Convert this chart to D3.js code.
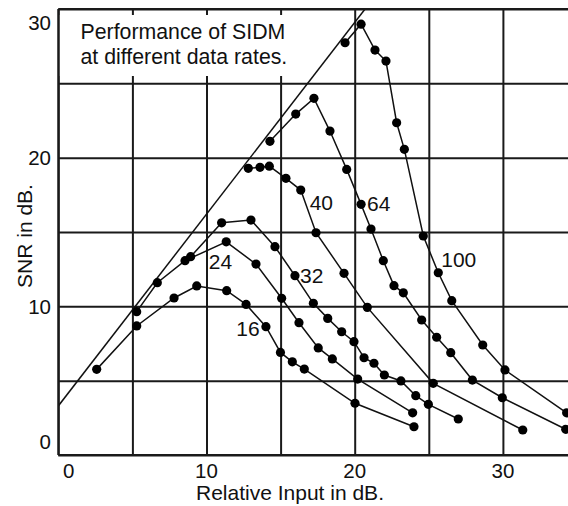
<!DOCTYPE html>
<html>
<head>
<meta charset="utf-8">
<script src="https://cdn.jsdelivr.net/npm/d3@7/dist/d3.min.js"></script>
<style>
html,body{margin:0;padding:0;background:#fff;}
svg{display:block;}
text{font-family:"Liberation Sans",Arial,Helvetica,sans-serif;fill:#111;}
</style>
</head>
<body>
<svg id="chart" width="568" height="506"></svg>
<script>
// ---- data ----
const xTicks = [0, 10, 20, 30];
const yTicks = [0, 10, 20, 30];
const gridX = [0, 5, 10, 15, 20, 25, 30];
const gridY = [0, 5, 10, 15, 20, 25, 30];

const rate16X = [2.59, 5.29, 7.81, 9.34, 11.36, 12.67, 14.01, 14.99, 15.79, 16.6, 20.02, 24.0];
const rate16Y = [5.76, 8.68, 10.56, 11.37, 11.05, 10.13, 8.63, 6.9, 6.27, 5.78, 3.48, 1.9];

const rate24X = [5.29, 6.68, 8.55, 11.33, 13.34, 15.07, 16.24, 17.54, 18.49, 20.2, 23.91];
const rate24Y = [9.64, 11.59, 13.07, 14.34, 12.84, 10.54, 8.9, 7.2, 6.46, 5.11, 2.84];

const rate32X = [8.93, 11.02, 13.0, 14.62, 15.97, 17.21, 18.18, 19.12, 19.95, 20.63, 21.3, 22.0, 23.12, 24.12, 24.97, 26.99];
const rate32Y = [13.34, 15.62, 15.8, 14.01, 12.06, 10.2, 9.19, 8.29, 7.62, 6.54, 6.17, 5.38, 4.98, 3.99, 3.41, 2.42];

const rate40X = [12.82, 13.61, 14.24, 15.36, 16.36, 17.39, 19.28, 20.85, 25.3, 31.34];
const rate40Y = [19.28, 19.35, 19.43, 18.61, 17.82, 14.95, 12.22, 9.93, 4.82, 1.68];

const rate64X = [14.28, 16.02, 17.25, 18.33, 19.46, 20.43, 21.1, 21.93, 22.65, 23.28, 24.52, 25.53, 26.48, 27.94, 29.96, 34.24];
const rate64Y = [21.1, 22.93, 23.99, 21.79, 19.21, 16.86, 15.2, 13.07, 11.39, 10.91, 9.08, 7.92, 6.88, 5.04, 3.85, 1.73];

const rate100X = [19.35, 20.43, 21.37, 22.11, 22.83, 23.35, 24.63, 25.64, 26.55, 28.64, 30.14, 34.3];
const rate100Y = [27.73, 28.98, 27.24, 26.5, 22.35, 20.56, 14.73, 12.26, 10.38, 7.4, 5.72, 2.84];

// ideal (limit) line
const limitX = [0, 20.7];
const limitY = [3.3, 30];

// series names and label anchor (data units)
const seriesNames = ["16", "24", "32", "40", "64", "100"];
const labelX = [12.8, 10.94, 17.1, 17.75, 21.62, 27.02];
const labelY = [8.51, 13.0, 12.1, 16.98, 16.89, 13.15];

const titleLines = ["Performance of SIDM", "at different data rates."];
const xTitle = "Relative Input in dB.";
const yTitle = "SNR in dB.";

// ---- drawing ----
(function () {
const svg = d3.select("#chart");
const W = 568;
const mLeft = 58.3, mTop = 9, mBottom = 455;
const pxPerUnit = 14.82;

const x = d3.scaleLinear().domain([0, 35]).range([mLeft, mLeft + 35 * pxPerUnit]);
const y = d3.scaleLinear().domain([0, 30]).range([mBottom, mTop]);

const defs = svg.append("defs");
defs.append("clipPath").attr("id", "plotclip")
  .append("rect").attr("x", mLeft).attr("y", mTop).attr("width", W - mLeft).attr("height", mBottom - mTop);

// grid via axes
const gx = svg.append("g").attr("transform", `translate(0,${mBottom})`)
  .call(d3.axisBottom(x).tickValues(gridX).tickSize(-(mBottom - mTop)).tickFormat(""));
gx.select(".domain").remove();
gx.selectAll(".tick line").attr("stroke", "#1a1a1a").attr("stroke-width", 2);

const gy = svg.append("g").attr("transform", `translate(${mLeft},0)`)
  .call(d3.axisLeft(y).tickValues(gridY).tickSize(-(W - mLeft)).tickFormat(""));
gy.select(".domain").remove();
gy.selectAll(".tick line").attr("stroke", "#1a1a1a").attr("stroke-width", 2);

// title box (white background covering grid)
svg.append("rect").attr("x", mLeft + 1.5).attr("y", 15).attr("width", 240).attr("height", 61).attr("fill", "#fff");
svg.append("g").selectAll("text").data(titleLines).join("text")
  .attr("x", 80.5).attr("y", (d, i) => 38.5 + i * 25)
  .attr("font-size", 21.3).text(d => d);

// tick labels
svg.append("g").selectAll("text").data(yTicks).join("text")
  .attr("x", 51).attr("y", d => Math.max(22, Math.min(441, y(d))))
  .attr("text-anchor", "end").attr("dominant-baseline", "central")
  .attr("font-size", 20.5).text(d => d);
svg.append("g").selectAll("text").data(xTicks).join("text")
  .attr("x", d => Math.max(68.7, x(d))).attr("y", 470)
  .attr("text-anchor", "middle").attr("dominant-baseline", "central")
  .attr("font-size", 20.5).text(d => d);

// axis titles
svg.append("text").attr("x", 290).attr("y", 500).attr("text-anchor", "middle")
  .attr("font-size", 21).text(xTitle);
svg.append("text").attr("transform", "translate(32,236) rotate(-90)").attr("text-anchor", "middle")
  .attr("font-size", 21).text(yTitle);

const plot = svg.append("g").attr("clip-path", "url(#plotclip)");

// limit line
const line = d3.line().x(d => x(d[0])).y(d => y(d[1]));
plot.append("path").datum(limitX.map((v, i) => [v, limitY[i]]))
  .attr("d", line).attr("fill", "none").attr("stroke", "#111").attr("stroke-width", 1.5);

const seriesX = [rate16X, rate24X, rate32X, rate40X, rate64X, rate100X];
const seriesY = [rate16Y, rate24Y, rate32Y, rate40Y, rate64Y, rate100Y];

seriesX.forEach((xs, s) => {
  const pts = xs.map((v, i) => [v, seriesY[s][i]]);
  plot.append("path").datum(pts).attr("d", line)
    .attr("fill", "none").attr("stroke", "#111").attr("stroke-width", 1.5);
  plot.append("g").selectAll("circle").data(pts).join("circle")
    .attr("cx", d => x(d[0])).attr("cy", d => y(d[1])).attr("r", 4.6).attr("fill", "#000");
});

// bottom, left and top borders
svg.append("line").attr("x1", mLeft).attr("x2", W).attr("y1", mBottom).attr("y2", mBottom)
  .attr("stroke", "#1a1a1a").attr("stroke-width", 2);
svg.append("line").attr("x1", mLeft).attr("x2", mLeft).attr("y1", mTop).attr("y2", mBottom)
  .attr("stroke", "#1a1a1a").attr("stroke-width", 2);
svg.append("line").attr("x1", mLeft).attr("x2", W).attr("y1", mTop).attr("y2", mTop)
  .attr("stroke", "#1a1a1a").attr("stroke-width", 2);

// series labels
svg.append("g").selectAll("text").data(seriesNames).join("text")
  .attr("x", (d, i) => x(labelX[i])).attr("y", (d, i) => y(labelY[i]))
  .attr("text-anchor", "middle").attr("dominant-baseline", "central")
  .attr("font-size", 21).text(d => d);
})();
</script>
</body>
</html>
